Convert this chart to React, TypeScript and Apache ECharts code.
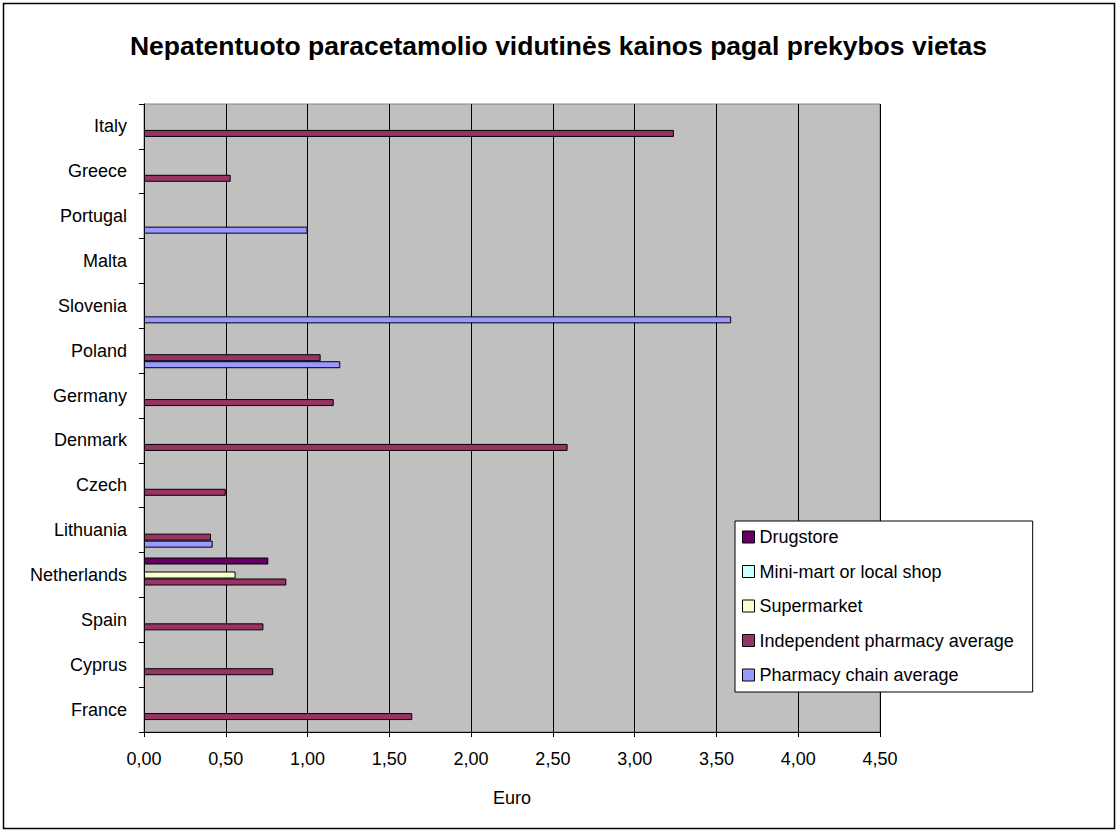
import React, { useEffect, useRef } from "react";
import * as echarts from "echarts";

const titleText = "Nepatentuoto paracetamolio vidutinės kainos pagal prekybos vietas";
const categories = [
  "France", "Cyprus", "Spain", "Netherlands", "Lithuania", "Czech", "Denmark",
  "Germany", "Poland", "Slovenia", "Malta", "Portugal", "Greece", "Italy",
];
const seriesNames = [
  "Drugstore",
  "Mini-mart or local shop",
  "Supermarket",
  "Independent pharmacy average",
  "Pharmacy chain average",
];
const seriesColors = ["#660066", "#CCFFFF", "#FFFFCC", "#993366", "#9999FF"];
const drugstore = [null, null, null, 0.76, null, null, null, null, null, null, null, null, null, null];
const miniMart = [null, null, null, null, null, null, null, null, null, null, null, null, null, null];
const supermarket = [null, null, null, 0.56, null, null, null, null, null, null, null, null, null, null];
const independent = [1.64, 0.79, 0.73, 0.87, 0.41, 0.5, 2.59, 1.16, 1.08, null, null, null, 0.53, 3.24];
const chain = [null, null, null, null, 0.42, null, null, null, 1.2, 3.59, null, 1.0, null, null];
const xMin = 0;
const xMax = 4.5;
const xStep = 0.5;
const xName = "Euro";

const FONT = "'Liberation Sans', Arial, sans-serif";

export default function App() {
  const ref = useRef<HTMLDivElement>(null);
  useEffect(() => {
    const chart = echarts.init(ref.current!, null, { renderer: "svg" });
    const seriesData = [drugstore, miniMart, supermarket, independent, chain];
    chart.setOption({
      animation: false,
      backgroundColor: "#ffffff",
      textStyle: { fontFamily: FONT },
      title: {
        text: titleText,
        left: "center",
        top: 27,
        textStyle: { fontFamily: FONT, fontSize: 26.5, fontWeight: "bold", color: "#000" },
      },
      grid: {
        left: 144,
        top: 104,
        width: 736,
        height: 628,
        show: true,
        backgroundColor: "#c0c0c0",
        borderColor: "#808080",
        borderWidth: 1,
      },
      xAxis: {
        type: "value",
        min: xMin,
        max: xMax,
        interval: xStep,
        name: xName,
        nameLocation: "middle",
        nameGap: 57,
        nameTextStyle: { fontFamily: FONT, fontSize: 18, color: "#000" },
        axisLine: { show: true, lineStyle: { color: "#000", width: 1 } },
        axisTick: { show: true, length: 5, lineStyle: { color: "#000" } },
        axisLabel: {
          margin: 18,
          fontFamily: FONT,
          fontSize: 18,
          color: "#000",
          formatter: (v: number) => v.toFixed(2).replace(".", ","),
        },
        splitLine: { show: true, lineStyle: { color: "#000", width: 1 } },
      },
      yAxis: {
        type: "category",
        data: categories,
        axisLine: { show: true, lineStyle: { color: "#000", width: 1 } },
        axisTick: { show: true, length: 5, lineStyle: { color: "#000" } },
        axisLabel: { margin: 17, fontFamily: FONT, fontSize: 18, color: "#000" },
        splitLine: { show: false },
      },
      legend: {
        data: seriesNames,
        orient: "vertical",
        left: 735,
        top: 521,
        icon: "rect",
        itemWidth: 12,
        itemHeight: 12,
        itemGap: 16.5,
        padding: [7, 19, 8, 7],
        backgroundColor: "#ffffff",
        borderColor: "#000",
        borderWidth: 1,
        itemStyle: { borderColor: "#000", borderWidth: 1 },
        textStyle: { fontFamily: FONT, fontSize: 18, color: "#000" },
      },
      graphic: [
        {
          type: "rect",
          silent: true,
          z: 100,
          shape: { x: 3.5, y: 3.5, width: 1111, height: 825 },
          style: { fill: "none", stroke: "#000", lineWidth: 1.5 },
        },
      ],
      series: seriesNames.map((name, i) => ({
        type: "bar",
        name,
        data: seriesData[i],
        barWidth: 7,
        barGap: "0%",
        itemStyle: { color: seriesColors[i], borderColor: "#000", borderWidth: 1 },
      })),
    });
    return () => chart.dispose();
  }, []);
  return (
    <div
      ref={ref}
      style={{ position: "absolute", left: 0, top: 0, width: 1117, height: 832 }}
    />
  );
}
